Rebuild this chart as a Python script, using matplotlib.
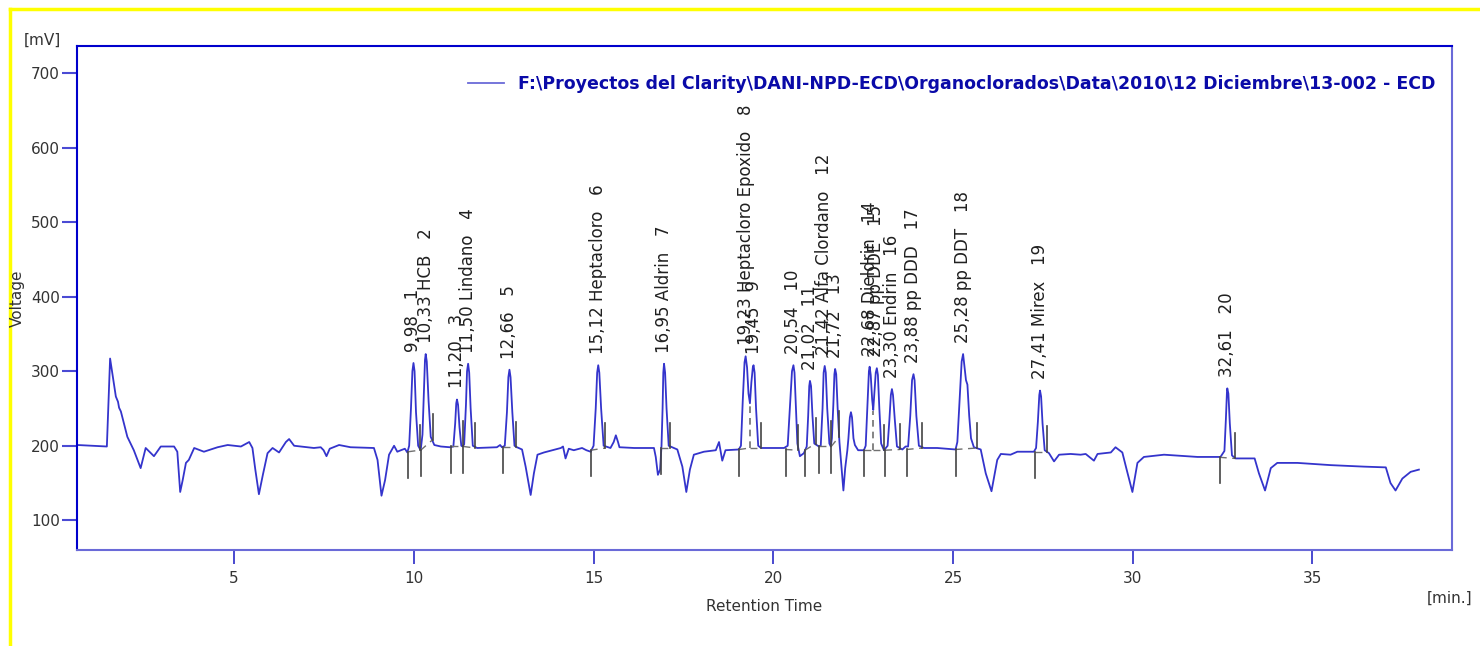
import matplotlib.pyplot as plt
from matplotlib.lines import Line2D

# chromatogram trace (retention time in min, signal in mV)
time_min = [
    0.64, 1.46, 1.55, 1.71, 1.77, 1.80, 1.85, 2.03, 2.21, 2.40, 2.54, 2.77, 2.96, 3.33,
    3.42, 3.50, 3.57, 3.66, 3.74, 3.89, 4.16, 4.54, 4.82, 5.19, 5.42, 5.51, 5.59, 5.69,
    5.80, 5.93, 6.07, 6.25, 6.44, 6.53, 6.67, 7.22, 7.41, 7.49, 7.57, 7.66, 7.92, 8.24,
    8.89, 8.99, 9.10, 9.20, 9.31, 9.45, 9.54, 9.64, 9.75, 9.82,
    9.87, 9.92, 9.96, 9.99, 10.02, 10.06, 10.12, 10.19,
    10.24, 10.28, 10.31, 10.33, 10.36, 10.41, 10.47, 10.57, 10.75, 11.00,
    11.10, 11.15, 11.18, 11.20, 11.23, 11.27, 11.32, 11.36,
    11.40, 11.45, 11.48, 11.51, 11.54, 11.58, 11.64, 11.76, 12.31, 12.40, 12.45,
    12.53, 12.59, 12.63, 12.66, 12.69, 12.74, 12.80, 12.87, 13.01,
    13.11, 13.25, 13.34, 13.44, 13.62, 14.09, 14.15, 14.22, 14.31, 14.45, 14.68, 14.80, 14.92,
    15.00, 15.06, 15.10, 15.13, 15.16, 15.21, 15.28, 15.47, 15.56, 15.62, 15.68, 15.72, 16.13, 16.68,
    16.73, 16.79, 16.85, 16.89, 16.92, 16.94, 16.96, 16.99, 17.03, 17.09, 17.33,
    17.47, 17.58, 17.68, 17.79, 18.07, 18.40, 18.49, 18.58, 18.67, 19.04,
    19.10, 19.15, 19.20, 19.23, 19.27, 19.31, 19.35, 19.39, 19.43, 19.45, 19.48, 19.52, 19.58,
    19.66, 20.30,
    20.40, 20.46, 20.52, 20.56, 20.59, 20.63, 20.67, 20.74, 20.85,
    20.93, 20.97, 21.00, 21.02, 21.05, 21.09, 21.14, 21.27,
    21.32, 21.37, 21.40, 21.43, 21.46, 21.50, 21.56, 21.60,
    21.63, 21.67, 21.70, 21.72, 21.75, 21.79, 21.84, 21.90, 21.95, 22.00, 22.06,
    22.09, 22.13, 22.16, 22.19, 22.23, 22.27, 22.36, 22.52,
    22.57, 22.62, 22.66, 22.68, 22.71, 22.75, 22.78, 22.81, 22.85, 22.88, 22.91, 22.95, 23.00,
    23.08,
    23.18, 23.23, 23.27, 23.30, 23.33, 23.38, 23.44, 23.59,
    23.68, 23.75, 23.81, 23.86, 23.90, 23.93, 23.98, 24.05, 24.19, 24.56, 25.07,
    25.12, 25.18, 25.24, 25.28, 25.32, 25.36, 25.40, 25.45, 25.50, 25.58, 25.77,
    25.91, 26.07, 26.23, 26.33, 26.60, 26.79, 27.25,
    27.31, 27.36, 27.40, 27.42, 27.45, 27.49, 27.55, 27.67, 27.81, 27.95, 28.27, 28.55, 28.69,
    28.92, 29.02, 29.39, 29.52, 29.71, 29.83, 29.99, 30.13, 30.31, 30.87, 31.80, 32.44,
    32.55, 32.59, 32.62, 32.63, 32.66, 32.70, 32.76, 32.86, 33.39, 33.51, 33.68, 33.84, 34.02,
    34.58, 35.51, 36.43, 37.04, 37.17, 37.31, 37.50, 37.73, 37.96,
]
signal_mv = [
    201, 199, 317, 266, 259, 251, 246, 212, 194, 170, 197, 186, 199, 199,
    192, 138, 154, 177, 181, 197, 192, 198, 201, 199, 205, 197, 168, 135,
    161, 190, 197, 191, 205, 209, 200, 197, 198, 194, 186, 196, 201, 198,
    197, 181, 133, 154, 188, 200, 192, 194, 196, 191,
    200, 250, 300, 311, 300, 245, 200, 194,
    215, 270, 315, 323, 313, 260, 212, 201, 199, 198,
    199, 230, 257, 262, 255, 225, 200, 199,
    202, 255, 300, 310, 298, 250, 200, 197, 198, 201, 198,
    200, 245, 292, 302, 292, 245, 200, 198, 195,
    172, 134, 163, 188, 191, 197, 199, 183, 196, 194, 197, 194, 192,
    200, 250, 298, 308, 298, 250, 200, 197, 205, 214, 205, 198, 197, 197,
    185, 161, 168, 200, 250, 298, 310, 298, 250, 200, 195,
    172, 138, 168, 188, 192, 194, 205, 180, 194, 195,
    200, 260, 312, 320, 305, 270, 257, 285, 305, 308, 298, 250, 200,
    197, 197,
    200, 250, 300, 308, 298, 250, 203, 186, 190,
    199, 240, 280, 287, 280, 240, 203, 199,
    200, 250, 298, 307, 298, 250, 203, 199,
    210, 255, 296, 303, 296, 250, 205, 170, 140, 170, 194,
    210, 238, 245, 238, 210, 201, 194, 194,
    200, 255, 300, 306, 295, 262, 248, 270, 298, 304, 295, 250, 203,
    194,
    200, 235, 268, 276, 268, 235, 199, 195,
    199, 199, 240, 288, 296, 288, 240, 200, 197, 197, 195,
    205, 260, 313, 323, 305, 288, 282, 240, 210, 198, 195,
    163, 139, 181, 189, 188, 192, 192,
    197, 232, 268, 274, 266, 230, 194, 190, 179, 188, 189, 188, 189,
    180, 189, 191, 198, 191, 168, 138, 177, 185, 188, 185, 185,
    193, 235, 272, 277, 270, 230, 187, 183, 183, 163, 140, 170, 177,
    177, 174, 172, 171, 150, 140, 156, 165, 168,
]

# identified peaks
peak_rt = [9.98, 10.33, 11.20, 11.50, 12.66, 15.12, 16.95, 19.23, 19.45, 20.54,
           21.02, 21.42, 21.72, 22.68, 22.87, 23.30, 23.88, 25.28, 27.41, 32.61]
peak_top = [311, 323, 262, 310, 302, 308, 310, 320, 308, 308,
            287, 307, 303, 306, 304, 276, 296, 323, 274, 277]
peak_name = ["", "HCB", "", "Lindano", "", "Heptacloro", "Aldrin", "Heptacloro Epoxido", "", "",
             "", "Alfa Clordano", "", "Dieldrin", "pp DDE", "Endrin", "pp DDD", "pp DDT", "Mirex", ""]
peak_rt_text = ["9,98", "10,33", "11,20", "11,50", "12,66", "15,12", "16,95", "19,23", "19,45", "20,54",
                "21,02", "21,42", "21,72", "22,68", "22,87", "23,30", "23,88", "25,28", "27,41", "32,61"]

# integration baselines: start / end of each peak (min, mV)
base_t0 = [9.85, 10.19, 11.03, 11.38, 12.49, 14.92, 16.87, 19.05, 19.35, 20.34,
           20.88, 21.27, 21.61, 22.51, 22.78, 23.11, 23.71, 25.07, 27.27, 32.42]
base_v0 = [192, 194, 199, 199, 198, 194, 197, 195, 197, 195,
           194, 199, 199, 194, 194, 194, 195, 195, 192, 184.5]
base_t1 = [10.16, 10.52, 11.36, 11.71, 12.83, 15.33, 17.13, 19.35, 19.67, 20.70,
           21.18, 21.60, 21.83, 22.78, 23.08, 23.52, 24.15, 25.68, 27.62, 32.84]
base_v1 = [194, 208, 199, 197, 198, 197, 197, 197, 197, 194,
           203, 199, 212, 194, 194, 195, 197, 197, 192, 183]
# peaks that start on a drop line from the previous one
drop_start = [8, 14]
drop_top = [257, 246]

blue = "#0000cc"
light_blue = "#6a6ad8"
text_grey = "#333333"

fig = plt.figure(figsize=(14.8, 6.46), dpi=100)
ax = fig.add_axes([0.0518, 0.1491, 0.9295, 0.7797])

ax.plot(time_min, signal_mv, color="#3434cc", lw=1.3,
        label="F:\\Proyectos del Clarity\\DANI-NPD-ECD\\Organoclorados\\Data\\2010\\12 Diciembre\\13-002 - ECD")

# integration marks
for i in range(len(peak_rt)):
    ax.plot([base_t0[i], base_t1[i]], [base_v0[i], base_v1[i]], color="#707070",
            lw=1.0, ls=(0, (5, 4)))
    if i in drop_start:
        ax.plot([base_t0[i], base_t0[i]], [base_v0[i], drop_top[drop_start.index(i)]],
                color="#707070", lw=1.2, ls=(0, (4, 3)))
    else:
        ax.plot([base_t0[i], base_t0[i]], [base_v0[i] - 35, base_v0[i]], color="#444444", lw=1.2)
    if i + 1 not in drop_start:
        ax.plot([base_t1[i], base_t1[i]], [base_v1[i], base_v1[i] + 34], color="#444444", lw=1.2)

# peak labels
for i in range(len(peak_rt)):
    if peak_name[i]:
        lab = peak_rt_text[i] + " " + peak_name[i] + "   " + str(i + 1)
    else:
        lab = peak_rt_text[i] + "   " + str(i + 1)
    ax.text(peak_rt[i], peak_top[i] + 15, lab, rotation=90, ha="center", va="bottom",
            fontsize=12, color="#202020")

ax.set_xlim(0.62, 38.89)
ax.set_ylim(60.6, 736.2)
ax.set_xticks([5, 10, 15, 20, 25, 30, 35])
ax.set_yticks([100, 200, 300, 400, 500, 600, 700])

for side in ["left", "top"]:
    ax.spines[side].set_color(blue)
    ax.spines[side].set_linewidth(1.5)
for side in ["right", "bottom"]:
    ax.spines[side].set_color(light_blue)
    ax.spines[side].set_linewidth(1.5)
ax.tick_params(axis="y", direction="out", length=11, width=1.5, color="#4a4ad4",
               labelsize=11, labelcolor=text_grey, pad=1)
ax.tick_params(axis="x", direction="out", length=10, width=1.3, color="#3a3acc",
               labelsize=11, labelcolor=text_grey, pad=5)

ax.set_xlabel("Retention Time", fontsize=11, color=text_grey, labelpad=10)

leg = ax.legend(loc="upper right", bbox_to_anchor=(0.9874, 0.9424), frameon=False,
                borderaxespad=0, borderpad=0, handlelength=2.07, handletextpad=0.8,
                prop={"weight": "bold", "size": 12.5})
leg.get_lines()[0].set_color(light_blue)
for t in leg.get_texts():
    t.set_color("#0a0aa8")

fig.text(42 / 1480, 1 - 40 / 646, "[mV]", fontsize=11, color=text_grey, ha="center", va="center")
fig.text(1450 / 1480, 1 - 598 / 646, "[min.]", fontsize=11, color=text_grey, ha="center", va="center")
fig.text(17.5 / 1480, 1 - 298 / 646, "Voltage", fontsize=11, color=text_grey, rotation=90,
         ha="center", va="center")

# yellow frame (left and top edges)
fig.add_artist(Line2D([10 / 1480, 10 / 1480], [0, 1 - 9 / 646], color="#ffff00", lw=2.5))
fig.add_artist(Line2D([10 / 1480, 1], [1 - 9 / 646, 1 - 9 / 646], color="#ffff00", lw=2.5))

fig.savefig("out.png", dpi=100)
